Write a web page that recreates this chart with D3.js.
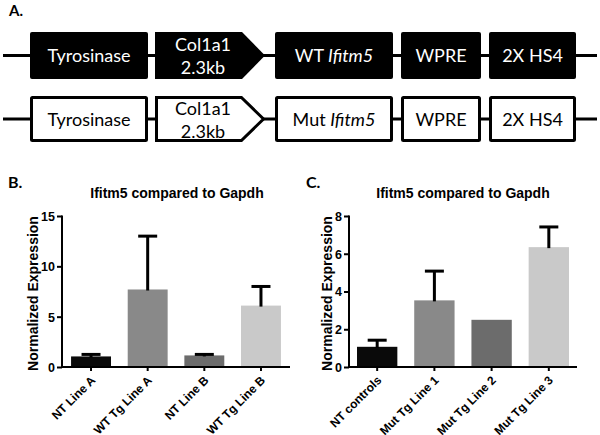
<!DOCTYPE html>
<html><head><meta charset="utf-8">
<script src="https://cdn.jsdelivr.net/npm/d3@7"></script>
<style>
html,body{margin:0;padding:0;background:#fff;}
svg{display:block;}
</style></head>
<body>
<svg id="chart" width="600" height="435"></svg>
<script>
// ---------- Panel A: construct diagram ----------
const elementNamesWT  = ["Tyrosinase", "Col1a1|2.3kb", "WT |Ifitm5", "WPRE", "2X HS4"];
const elementNamesMut = ["Tyrosinase", "Col1a1|2.3kb", "Mut |Ifitm5", "WPRE", "2X HS4"];
const elementKinds    = ["box", "arrow", "gene", "box", "box"];

// ---------- Panel B ----------
const catsB   = ["NT Line A", "WT Tg Line A", "NT Line B", "WT Tg Line B"];
const meanB   = [1.05, 7.7, 1.15, 6.1];
const errB    = [0.2, 5.3, 0.1, 1.9];
const ticksB  = [0, 5, 10, 15];

// ---------- Panel C ----------
const catsC   = ["NT controls", "Mut Tg Line 1", "Mut Tg Line 2", "Mut Tg Line 3"];
const meanC   = [1.07, 3.53, 2.5, 6.35];
const errC    = [0.35, 1.55, 0, 1.07];
const ticksC  = [0, 2, 4, 6, 8];

const barColors = ["#0a0a0a", "#898989", "#6c6c6c", "#c9c9c9"];
const chartTitle = "Ifitm5 compared to Gapdh";
const yTitle = "Normalized Expression";

const svg = d3.select("#chart");

// layout of diagram elements (pixel extents along the construct)
const boxLayout = [[30,148],[155,265],[275,393],[401,481],[489,576]];
const diagFont = "Lato, 'Open Sans', sans-serif";

function drawRow(names, y0, y1, filled) {
  const g = svg.append("g");
  const cy = (y0 + y1) / 2;
  g.append("line").attr("x1", 3).attr("x2", 597).attr("y1", cy).attr("y2", cy)
    .attr("stroke", "#000").attr("stroke-width", 3);
  names.forEach((name, i) => {
    const [a, b] = boxLayout[i];
    const kind = elementKinds[i];
    const inset = filled ? 0 : 1.5;
    const x0 = a + inset, x1 = b - inset, t = y0 + inset, bt = y1 - inset;
    let shape;
    if (kind === "arrow") {
      const xr = 242 - inset * 0.4;
      const p = d3.path();
      p.moveTo(x0, t); p.lineTo(xr, t); p.lineTo(x1, cy); p.lineTo(xr, bt); p.lineTo(x0, bt); p.closePath();
      shape = g.append("path").attr("d", p.toString()).attr("stroke-linejoin", "miter");
    } else {
      shape = g.append("rect").attr("x", x0).attr("y", t).attr("width", x1 - x0).attr("height", bt - t)
        .attr("rx", filled ? 2 : 1);
    }
    shape.attr("fill", filled ? "#000" : "#fff").attr("stroke", filled ? "none" : "#000").attr("stroke-width", 3);
    const col = filled ? "#fff" : "#000";
    if (kind === "arrow") {
      const parts = name.split("|");
      const cx = 203;
      g.append("text").attr("x", cx).attr("y", y0 + 19).attr("text-anchor", "middle")
        .attr("font-family", diagFont).attr("font-size", 18).attr("fill", col).text(parts[0]);
      g.append("text").attr("x", cx).attr("y", y0 + 42).attr("text-anchor", "middle")
        .attr("font-family", diagFont).attr("font-size", 18).attr("fill", col).text(parts[1]);
    } else if (kind === "gene") {
      const parts = name.split("|");
      const tx = g.append("text").attr("x", (a + b) / 2).attr("y", cy + 6.5).attr("text-anchor", "middle")
        .attr("font-family", diagFont).attr("font-size", 18).attr("fill", col);
      tx.append("tspan").text(parts[0]);
      tx.append("tspan").attr("font-style", "italic").text(parts[1]);
    } else {
      g.append("text").attr("x", (a + b) / 2).attr("y", cy + 6.5).attr("text-anchor", "middle")
        .attr("font-family", diagFont).attr("font-size", 18).attr("fill", col).text(name);
    }
  });
}

svg.append("text").attr("x", 9).attr("y", 16).attr("font-family", diagFont).attr("font-weight", "bold")
  .attr("font-size", 15).text("A.");
drawRow(elementNamesWT, 32, 79, true);
drawRow(elementNamesMut, 96, 142, false);

// ---------- bar panels ----------
const axFont = "'Liberation Sans', Arial, Helvetica, sans-serif";

function barPanel(opt) {
  const g = svg.append("g");
  const y = d3.scaleLinear().domain(opt.domain).range([367, 216]);
  const x = d3.scaleBand().domain(opt.cats).range(opt.xr).paddingInner(0.295).paddingOuter(opt.outer);

  g.append("text").attr("x", opt.letterX).attr("y", 188).attr("font-family", diagFont)
    .attr("font-weight", "bold").attr("font-size", 16).text(opt.letter);
  g.append("text").attr("x", opt.titleX).attr("y", 198).attr("text-anchor", "middle")
    .attr("font-family", axFont).attr("font-weight", "bold").attr("font-size", 14).text(chartTitle);
  g.append("text").attr("transform", `translate(${opt.ylabX},${(367 + 216) / 2 + 2}) rotate(-90)`)
    .attr("text-anchor", "middle").attr("font-family", axFont).attr("font-weight", "bold")
    .attr("font-size", 14).text(yTitle);

  // bars
  g.selectAll("rect.bar").data(opt.cats).join("rect").attr("class", "bar")
    .attr("x", d => x(d)).attr("width", x.bandwidth())
    .attr("y", (d, i) => y(opt.mean[i])).attr("height", (d, i) => y(0) - y(opt.mean[i]))
    .attr("fill", (d, i) => barColors[i]);

  // error bars (upper only)
  opt.cats.forEach((c, i) => {
    if (!opt.err[i]) return;
    const cx = x(c) + x.bandwidth() / 2;
    const top = y(opt.mean[i] + opt.err[i]);
    g.append("line").attr("x1", cx).attr("x2", cx).attr("y1", y(opt.mean[i]) + 1).attr("y2", top)
      .attr("stroke", "#000").attr("stroke-width", 3);
    g.append("line").attr("x1", cx - 9.5).attr("x2", cx + 9.5).attr("y1", top).attr("y2", top)
      .attr("stroke", "#000").attr("stroke-width", 3);
  });

  // y axis
  const ya = g.append("g").attr("transform", `translate(${opt.xr[0]},0)`)
    .call(d3.axisLeft(y).tickValues(opt.ticks).tickSize(5).tickSizeOuter(0).tickPadding(2));
  ya.select(".domain").attr("stroke-width", 2).attr("d", `M0,${y(opt.domain[1]) - 0.5}V${y(0) + 1}`);
  ya.selectAll(".tick line").attr("stroke-width", 2);
  ya.selectAll("text").attr("font-family", axFont).attr("font-weight", "bold").attr("font-size", 12.5)
    .attr("fill", "#000").attr("dy", "0.35em");

  // x axis
  const xa = g.append("g").attr("transform", `translate(0,${y(0)})`)
    .call(d3.axisBottom(x).tickSize(4).tickSizeOuter(0));
  xa.select(".domain").attr("stroke-width", 2).attr("d", `M${opt.xr[0] - 1},0H${opt.xr[1]}`);
  xa.selectAll(".tick line").attr("stroke-width", 2);
  xa.selectAll("text").attr("font-family", axFont).attr("font-weight", "bold").attr("font-size", 12)
    .attr("fill", "#000").attr("text-anchor", "end").attr("y", 0).attr("dy", 0)
    .attr("transform", "translate(5,14) rotate(-45)");
}

barPanel({cats: catsB, mean: meanB, err: errB, domain: [0, 15], ticks: ticksB,
  xr: [62, 290], outer: 0.16, letter: "B.", letterX: 8, titleX: 177, ylabX: 38});
barPanel({cats: catsC, mean: meanC, err: errC, domain: [0, 8], ticks: ticksC,
  xr: [349, 577], outer: 0.14, letter: "C.", letterX: 306, titleX: 463, ylabX: 332});
</script>
</body></html>
